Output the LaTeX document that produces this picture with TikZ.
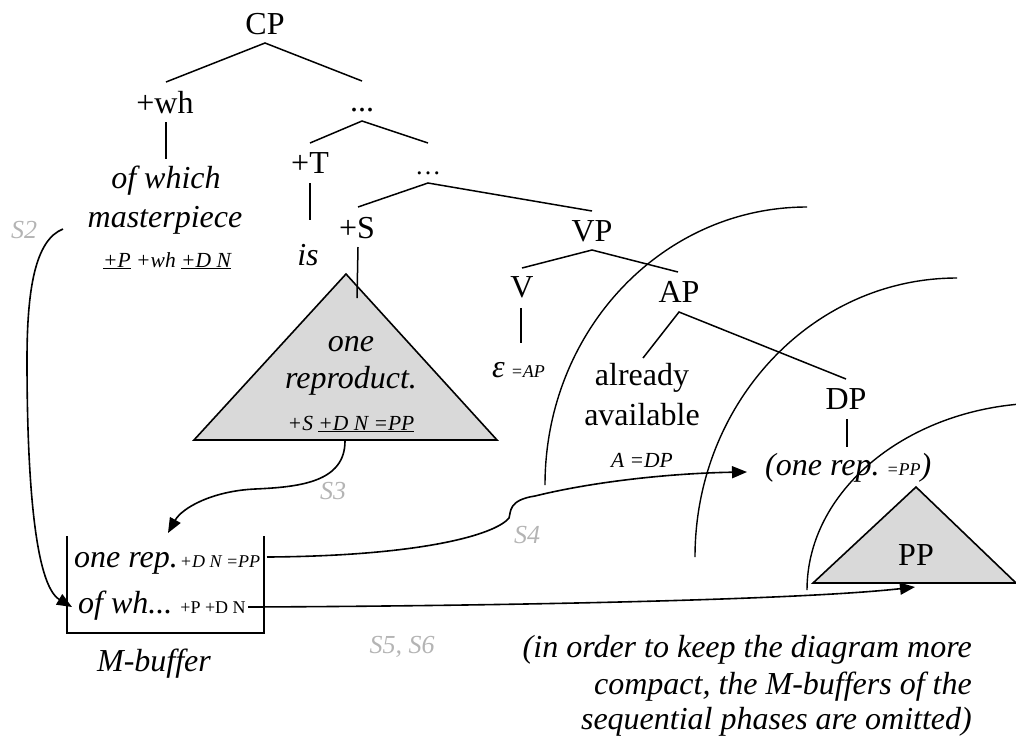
\documentclass[tikz,border=0pt]{standalone}
\usepackage{fontspec}
\setmainfont{Liberation Serif}
\usetikzlibrary{arrows.meta}
\definecolor{trigray}{HTML}{D9D9D9}
\definecolor{sgray}{HTML}{B4B4B4}
\newcommand\FBig{\fontsize{32}{38}\selectfont}
\newcommand\FSm{\fontsize{21.5}{25}\selectfont}
\newcommand\FTn{\fontsize{18}{21}\selectfont}
\newcommand\FSl{\fontsize{26}{30}\selectfont}
\begin{document}
\begin{tikzpicture}[x=1pt,y=-1pt,
  lab/.style={inner sep=0pt, anchor=base, font=\FBig},
  itl/.style={inner sep=0pt, anchor=base, font=\FBig\itshape},
  sm/.style={inner sep=0pt, anchor=base, font=\FSm\itshape},
  slab/.style={inner sep=0pt, anchor=base, font=\FSl\itshape, text=sgray},
  treeedge/.style={line width=1.5pt},
  phase/.style={line width=1.4pt},
  conn/.style={line width=1.6pt, -{Triangle[length=15pt,width=12pt]}},
  trishape/.style={fill=trigray, draw, line width=1.6pt, line join=miter}]
\useasboundingbox (0,0) rectangle (1016,740);
\clip (0,0) rectangle (1016,740);

% phase arcs
\coordinate (a1s) at (545,485); \coordinate (a1e) at (807,207);
\coordinate (a2s) at (695,557); \coordinate (a2e) at (957,278);
\coordinate (a3s) at (807,590); \coordinate (a3e) at (1045,403);
\draw[phase] (a1s) .. controls (545,331) and (662,207) .. (a1e);
\draw[phase] (a2s) .. controls (695,403) and (812,278) .. (a2e);
\draw[phase] (a3s) .. controls (807,487) and (914,403) .. (a3e);

% triangles
\draw[trishape] (346,274) -- (194,440) -- (497,440) -- cycle;
\draw[trishape] (916,487) -- (813,583) -- (1016,583) -- cycle;

% tree labels
\node[lab] (cp) at (265,34) {CP};
\node[lab] (wh) at (165,113) {+wh};
\node[lab] (d1) at (362,111) {...};
\node[lab] (t) at (310,173) {+T};
\node[lab, font=\fontsize{26}{30}\selectfont] (d2) at (428,174) {…};
\node[itl] (ofw) at (166,188) {of which};
\node[itl] (mast) at (165,227) {masterpiece};
\node[sm] (feat1) at (167,267) {\underline{+P} +wh \underline{+D N}};
\node[itl] (is) at (308,265) {is};
\node[lab] (s) at (357,238) {+S};
\node[lab] (vp) at (592,241) {VP};
\node[lab] (v) at (522,297) {V};
\node[lab] (ap) at (679,302) {AP};
\node[lab] (alr) at (642,385) {already};
\node[lab] (avl) at (642,425) {available};
\node[lab] (dp) at (846,409) {DP};
\node[itl, anchor=base west] (eps) at (492,377) {ε\hspace{6pt}{\FTn =AP}};
\node[sm] (adp) at (642,467) {A =DP};
\node[itl] (one) at (351,351) {one};
\node[itl] (repr) at (351,388) {reproduct.};
\node[sm] (feat2) at (351,430) {+S \underline{+D N =PP}};
\node[itl, anchor=base west] (onerep) at (765,475) {(one rep.\hspace{7pt}{\FTn =PP})};
\node[lab] (pp) at (916,565) {PP};

% tree edges
\coordinate (cpB) at (265,43); \coordinate (whT) at (166,82); \coordinate (d1T) at (362,81);
\draw[treeedge] (whT) -- (cpB) -- (d1T);
\draw[treeedge] (166,122) coordinate (whB) -- (166,159) coordinate (ofwT);
\coordinate (d1B) at (362,121); \coordinate (tT) at (310,143); \coordinate (d2T) at (428,143);
\draw[treeedge] (tT) -- (d1B) -- (d2T);
\draw[treeedge] (310,183) coordinate (tB) -- (310,220) coordinate (isT);
\coordinate (d2B) at (428,183); \coordinate (sT) at (358,207); \coordinate (vpT) at (592,211);
\draw[treeedge] (sT) -- (d2B) -- (vpT);
\draw[treeedge] (358,247) coordinate (sB) -- (357,298) coordinate (tri1in);
\coordinate (vpB) at (592,250); \coordinate (vT) at (522,268); \coordinate (apT) at (678,272);
\draw[treeedge] (vT) -- (vpB) -- (apT);
\draw[treeedge] (521,308) coordinate (vB) -- (521,343) coordinate (epsT);
\coordinate (apB) at (679,312); \coordinate (alrT) at (643,358); \coordinate (dpT) at (846,379);
\draw[treeedge] (alrT) -- (apB) -- (dpT);
\draw[treeedge] (847,419) coordinate (dpB) -- (847,447) coordinate (onerepT);

% M-buffer
\draw[line width=1.6pt] (67,536) -- (67,633) -- (264,633) -- (264,536);
\node[itl, anchor=base west] (row1) at (74,567) {one rep.\hspace{2pt}{\FTn +D N =PP}};
\node[itl, anchor=base west] (row2) at (78,613) {of wh...\hspace{8pt}{\FTn\upshape +P +D N}};
\node[itl] (mbuf) at (154,671) {M-buffer};

% step labels
\node[slab] (s2) at (24,238) {S2};
\node[slab] (s3) at (333,499) {S3};
\node[slab] (s4) at (527,543) {S4};
\node[slab] (s56) at (402,653) {S5, S6};

% connectors
\coordinate (s2a) at (63,229); \coordinate (s2b) at (72,607);
\draw[conn] (s2a) .. controls (35,240) and (27,290) .. (27,360) .. controls (27,480) and (35,585) .. (s2b);
\coordinate (s3a) at (345,441); \coordinate (s3b) at (168,533);
\draw[conn] (s3a) .. controls (345,482) and (300,487) .. (255,489) .. controls (212,491) and (182,508) .. (s3b);
\coordinate (s4a) at (267,557); \coordinate (s4b) at (747,472);
\draw[conn] (s4a) .. controls (420,556) and (495,535) .. (509,518) .. controls (511,512) and (508,500) .. (535,496) .. controls (600,480) and (680,473) .. (s4b);
\coordinate (s5a) at (248,607); \coordinate (s5b) at (915,587);
\draw[conn] (s5a) .. controls (500,606) and (800,600) .. (s5b);

% note
\node[itl, anchor=base east] (n1) at (972,657) {(in order to keep the diagram more};
\node[itl, anchor=base east] (n2) at (972,694) {compact, the M-buffers of the};
\node[itl, anchor=base east] (n3) at (972,729) {sequential phases are omitted)};
\end{tikzpicture}
\end{document}
